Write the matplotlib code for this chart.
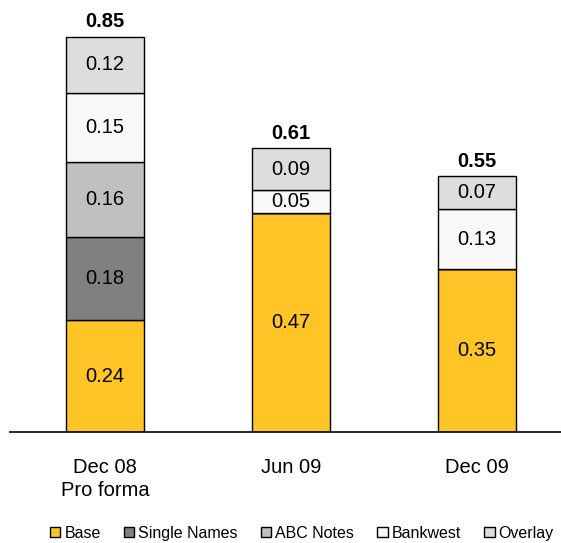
import matplotlib.pyplot as plt
from matplotlib.patches import Patch

plt.rcParams['font.family'] = ['Liberation Sans', 'DejaVu Sans']

periods = ['Dec 08\nPro forma', 'Jun 09', 'Dec 09']
series = ['Base', 'Single Names', 'ABC Notes', 'Bankwest', 'Overlay']
base = [0.24, 0.47, 0.35]
single_names = [0.18, 0, 0]
abc_notes = [0.16, 0, 0]
bankwest = [0.15, 0.05, 0.13]
overlay = [0.12, 0.09, 0.07]
totals = [0.85, 0.61, 0.55]

colors = ['#FFC425', '#808080', '#C0C0C0', '#F8F8F8', '#DDDDDD']
values = [base, single_names, abc_notes, bankwest, overlay]

fig = plt.figure(figsize=(5.61, 5.43), dpi=100)
ax = fig.add_axes([10 / 561, 111 / 543, 551 / 561, 432 / 543])

x = list(range(len(periods)))
bottom = [0.0] * len(periods)
for vals, col in zip(values, colors):
    ax.bar(x, vals, 0.42, bottom=bottom, color=col, edgecolor='black', linewidth=1)
    for i, v in enumerate(vals):
        if v > 0:
            ax.text(i, bottom[i] + v / 2, f'{v:.2f}', ha='center', va='center', fontsize=14.5)
    bottom = [b + v for b, v in zip(bottom, vals)]

for i, t in enumerate(totals):
    ax.text(i, t + 0.012, f'{t:.2f}', ha='center', va='bottom', fontsize=14.5, fontweight='bold')

ax.set_xlim(-0.511, 2.452)
ax.set_ylim(0, 432 / 465)
ax.set_xticks(x)
ax.set_xticklabels(periods, fontsize=14.5, linespacing=1.25)
ax.tick_params(axis='x', length=0, pad=19)
ax.set_yticks([])
for s in ['top', 'right', 'left']:
    ax.spines[s].set_visible(False)
ax.spines['bottom'].set_linewidth(1.2)

handles = [Patch(facecolor=c, edgecolor='black', label=s) for c, s in zip(colors, series)]
fig.legend(handles=handles, loc='center', bbox_to_anchor=(0.538, 0.018), ncol=5, frameon=False,
           fontsize=11.5, handlelength=0.65, handleheight=0.65, handletextpad=0.25, columnspacing=1.45,
           borderpad=0.1)

fig.savefig('out.png', dpi=100)
